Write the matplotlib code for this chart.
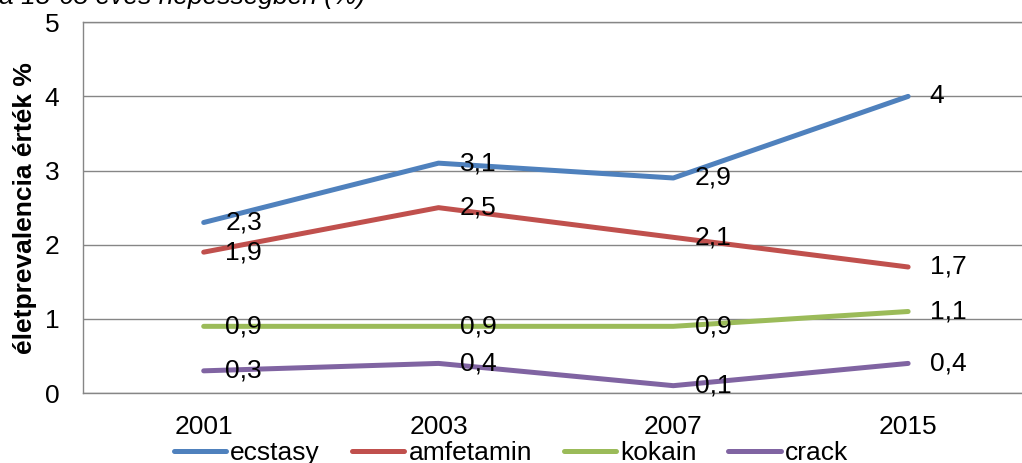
import numpy as np
import matplotlib.pyplot as plt

plt.rcParams['font.family'] = ['Liberation Sans', 'DejaVu Sans']

# Évek és életprevalencia értékek (%)
evek = ['2001', '2003', '2007', '2015']
ecstasy = [2.3, 3.1, 2.9, 4.0]
amfetamin = [1.9, 2.5, 2.1, 1.7]
kokain = [0.9, 0.9, 0.9, 1.1]
crack = [0.3, 0.4, 0.1, 0.4]

sorozatok = [('ecstasy', ecstasy, '#4F81BD'),
             ('amfetamin', amfetamin, '#C0504D'),
             ('kokain', kokain, '#9BBB59'),
             ('crack', crack, '#8064A2')]

fs = 19

fig = plt.figure(figsize=(10.22, 4.63), dpi=100)
ax = fig.add_axes([0.081, 0.151, 0.919, 0.801])

x = np.arange(len(evek))
for nev, ertekek, szin in sorozatok:
    ax.plot(x, ertekek, color=szin, lw=3.6, label=nev, solid_capstyle='round')
    for xi, v in zip(x, ertekek):
        szoveg = ('%g' % v).replace('.', ',')
        ax.annotate(szoveg, (xi, v), xytext=(15.5, 0), textcoords='offset points',
                    va='center', ha='left', fontsize=fs)

ax.set_xlim(-0.515, 3.485)
ax.set_ylim(0, 5)
ax.set_yticks(range(6))
ax.set_xticks(x)
ax.set_xticklabels(evek)
ax.tick_params(axis='x', length=0, pad=16, labelsize=fs)
ax.tick_params(axis='y', length=0, pad=17, labelsize=fs)
ax.yaxis.grid(True, color='#868686', lw=1)
ax.set_axisbelow(True)
for s in ax.spines.values():
    s.set_color('#868686')
    s.set_linewidth(1)
ax.spines['right'].set_visible(False)

ax.set_ylabel('életprevalencia érték %', fontsize=fs, fontweight='bold', labelpad=5)

# Cím (a kép tetején levágva)
fig.text(0.357, 0.991, 'a 18-65 éves népességben (%)', ha='right', va='baseline',
         fontsize=fs, style='italic')

fig.legend(loc='center', bbox_to_anchor=(0.5, 0.022), ncol=4, frameon=False,
           fontsize=fs, handlelength=2.0, handletextpad=0.15, columnspacing=1.2)

fig.savefig('out.png', dpi=100)
